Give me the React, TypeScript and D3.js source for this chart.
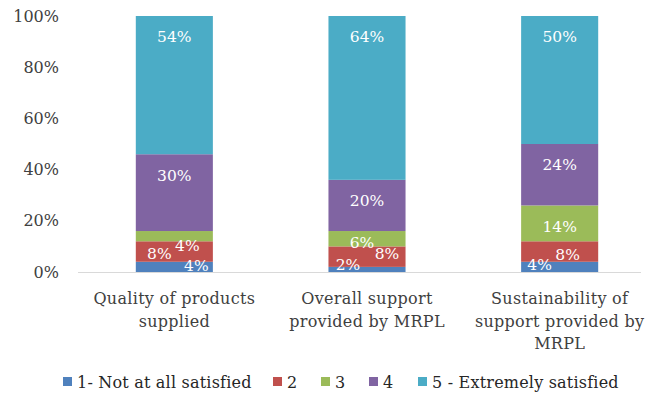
import React from "react";
import * as d3 from "d3";

const categories = [
  ["Quality of products", "supplied"],
  ["Overall support", "provided by MRPL"],
  ["Sustainability of", "support provided by", "MRPL"],
];
const seriesNames = ["1- Not at all satisfied", "2", "3", "4", "5 - Extremely satisfied"];
const seriesColors = ["#4F81BD", "#C0504D", "#9BBB59", "#8064A2", "#4BACC6"];
// values per series (rows) per category (columns), in %
const notSatisfied = [4, 2, 4];
const rating2 = [8, 8, 8];
const rating3 = [4, 6, 14];
const rating4 = [30, 20, 24];
const extremely = [54, 64, 50];
const seriesValues = [notSatisfied, rating2, rating3, rating4, extremely];
const yTicks = [0, 20, 40, 60, 80, 100];

// label nudges [dx, offset below segment top] for crowded small segments
const labelNudges: Record<string, [number, number]> = {
  "0-0": [22, 4], "0-1": [-15, 12], "0-2": [13, 15],
  "1-0": [-19, -2], "1-1": [20, 7], "1-2": [-5, 12],
  "2-0": [-20, 3], "2-1": [8, 13],
};

const W = 647, H = 394;
const FONT = "'DejaVu Serif', serif";

export default function App() {
  const x = d3.scaleBand<number>().domain([0, 1, 2]).range([78, 656]).paddingInner(0.6).paddingOuter(0.3);
  const y = d3.scaleLinear().domain([0, 100]).range([272, 16]);
  const stackData = categories.map((_, ci) => {
    const o: any = { ci };
    seriesValues.forEach((s, si) => (o["s" + si] = s[ci]));
    return o;
  });
  const stack = d3.stack<any>().keys(seriesNames.map((_, i) => "s" + i));
  const layers = stack(stackData);

  const legendItems = [
    { x: 63 }, { x: 273 }, { x: 321 }, { x: 369 }, { x: 418 },
  ];

  return (
    <svg width={W} height={H} style={{ position: "absolute", left: 0, top: 0, background: "#fff" }} fontFamily={FONT}>
      {yTicks.map((t) => (
        <text key={t} x={59} y={y(t)} dy="0.35em" textAnchor="end" fontSize={16} fill="#404040">
          {t}%
        </text>
      ))}
      {layers.map((layer, si) => (
        <g key={si} fill={seriesColors[si]}>
          {layer.map((d, ci) => (
            <rect key={ci} x={x(ci)} y={y(d[1])} width={x.bandwidth()} height={y(d[0]) - y(d[1])} />
          ))}
        </g>
      ))}
      <line x1={78} x2={641} y1={272.5} y2={272.5} stroke="#D9D9D9" strokeWidth={1} />
      {layers.map((layer, si) => (
        <g key={"l" + si}>
          {layer.map((d, ci) => {
            const nudge = labelNudges[ci + "-" + si] || [0, 21];
            const cx = (x(ci) as number) + x.bandwidth() / 2 + nudge[0];
            const cy = y(d[1]) + nudge[1];
            return (
              <text key={ci} x={cx} y={cy} dy="0.35em" textAnchor="middle" fontSize={15.5} fill="#fff">
                {seriesValues[si][ci]}%
              </text>
            );
          })}
        </g>
      ))}
      {categories.map((lines, ci) => (
        <text key={ci} textAnchor="middle" fontSize={16} fill="#404040" letterSpacing={0.3}>
          {lines.map((ln, li) => (
            <tspan key={li} x={(x(ci) as number) + x.bandwidth() / 2} y={304 + li * 22.5}>
              {ln}
            </tspan>
          ))}
        </text>
      ))}
      {seriesNames.map((n, i) => (
        <g key={n} transform={`translate(${legendItems[i].x},377)`}>
          <rect x={0} y={0} width={9} height={9} fill={seriesColors[i]} />
          <text x={14} y={5} dy="0.35em" fontSize={16} fill="#262626" letterSpacing={0.2}>
            {n}
          </text>
        </g>
      ))}
    </svg>
  );
}
